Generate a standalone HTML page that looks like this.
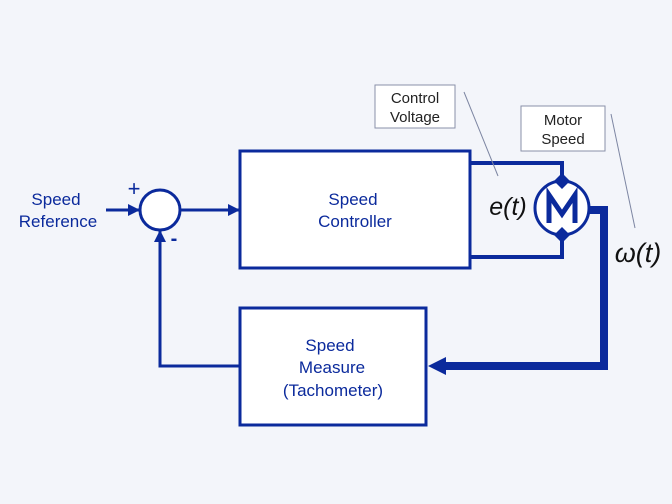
<!DOCTYPE html>
<html><head><meta charset="utf-8"><style>
body{margin:0;background:#f3f5fa}
svg{display:block}
text{font-family:"Liberation Sans",sans-serif}
</style></head><body>
<svg width="672" height="504" viewBox="0 0 672 504">
<defs>
<marker id="ah" markerWidth="12" markerHeight="12" refX="11" refY="6" orient="auto" markerUnits="userSpaceOnUse"><path d="M0,0 L12,6 L0,12 z" fill="#0b2a9c"/></marker>
</defs>
<rect width="672" height="504" fill="#f3f5fa"/>
<g fill="#0b2a9c" font-size="17" text-anchor="middle">
<text x="56" y="205">Speed</text>
<text x="58" y="227">Reference</text>
</g>
<line x1="106" y1="210" x2="139" y2="210" stroke="#0b2a9c" stroke-width="3" marker-end="url(#ah)"/>
<circle cx="160" cy="210" r="20" fill="#fff" stroke="#0b2a9c" stroke-width="3"/>
<text x="134" y="196" font-size="22" fill="#0b2a9c" text-anchor="middle">+</text>
<text x="174" y="245" font-size="20" fill="#0b2a9c" font-weight="bold" text-anchor="middle">-</text>
<line x1="180" y1="210" x2="239" y2="210" stroke="#0b2a9c" stroke-width="3" marker-end="url(#ah)"/>
<rect x="240" y="151" width="230" height="117" fill="#fff" stroke="#0b2a9c" stroke-width="3"/>
<text x="353" y="205" font-size="17" fill="#0b2a9c" text-anchor="middle">Speed</text>
<text x="355" y="227" font-size="17" fill="#0b2a9c" text-anchor="middle">Controller</text>
<polyline points="470,163 562,163 562,176" fill="none" stroke="#0b2a9c" stroke-width="4"/>
<polyline points="470,257 562,257 562,240" fill="none" stroke="#0b2a9c" stroke-width="4"/>
<circle cx="562" cy="208" r="27" fill="#fff" stroke="#0b2a9c" stroke-width="3"/>
<path d="M549,223 L549,195 L562,214 L575,195 L575,223" fill="none" stroke="#0b2a9c" stroke-width="5" stroke-linejoin="miter"/>
<path d="M562,173 L570,181 L562,189 L554,181 z" fill="#0b2a9c"/>
<path d="M562,227 L570,235 L562,243 L554,235 z" fill="#0b2a9c"/>
<polyline points="589,210 604,210 604,366 440,366" fill="none" stroke="#0b2a9c" stroke-width="8"/>
<path d="M428,366 L446,357 L446,375 z" fill="#0b2a9c"/>
<rect x="240" y="308" width="186" height="117" fill="#fff" stroke="#0b2a9c" stroke-width="3"/>
<g font-size="17" fill="#0b2a9c" text-anchor="middle">
<text x="330" y="351">Speed</text><text x="332" y="373">Measure</text><text x="333" y="396">(Tachometer)</text>
</g>
<polyline points="240,366 160,366 160,231" fill="none" stroke="#0b2a9c" stroke-width="3" marker-end="url(#ah)"/>
<rect x="375" y="85" width="80" height="43" fill="#fff" stroke="#8890a8" stroke-width="1"/>
<text x="415" y="103" font-size="15" fill="#222" text-anchor="middle">Control</text>
<text x="415" y="122" font-size="15" fill="#222" text-anchor="middle">Voltage</text>
<line x1="464" y1="92" x2="498" y2="176" stroke="#7d86a2" stroke-width="1"/>
<rect x="521" y="106" width="84" height="45" fill="#fff" stroke="#8890a8" stroke-width="1"/>
<text x="563" y="125" font-size="15" fill="#222" text-anchor="middle">Motor</text>
<text x="563" y="144" font-size="15" fill="#222" text-anchor="middle">Speed</text>
<line x1="611" y1="114" x2="635" y2="228" stroke="#7d86a2" stroke-width="1"/>
<text x="508" y="215" font-size="25" font-family="Liberation Serif,serif" font-style="italic" fill="#111" text-anchor="middle">e(t)</text>
<text x="638" y="262" font-size="27" font-family="Liberation Serif,serif" font-style="italic" fill="#111" text-anchor="middle">ω(t)</text>
</svg>
</body></html>
